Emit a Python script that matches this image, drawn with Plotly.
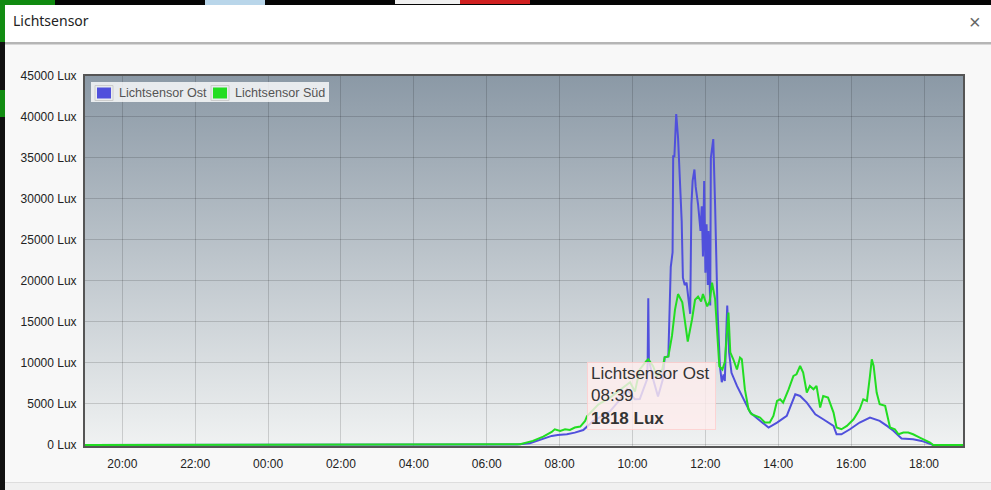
import base64
import plotly.graph_objects as go

# ---------------- data ----------------
DAY1 = "2023-06-10"
DAY2 = "2023-06-11"

ost_times = ["18:58", "06:30", "06:50", "07:11", "07:22", "07:33", "07:47", "07:57", "08:12", "08:25",
             "08:37", "08:39", "08:55", "09:10", "09:23", "09:40", "09:51", "10:04", "10:12", "10:24",
             "10:25", "10:26", "10:27", "10:34", "10:42", "10:50", "10:53", "10:59", "11:03", "11:06",
             "11:07", "11:09", "11:12", "11:15", "11:18", "11:21", "11:23", "11:26", "11:29", "11:32",
             "11:35", "11:37", "11:39", "11:42", "11:44", "11:48", "11:52", "11:54", "11:56", "11:58",
             "12:00", "12:02", "12:04", "12:05", "12:08", "12:09", "12:13", "12:16", "12:18", "12:20",
             "12:24", "12:27", "12:30", "12:32", "12:35", "12:36", "12:39", "12:43", "12:52", "13:03",
             "13:14", "13:27", "13:44", "13:58", "14:14", "14:28", "14:36", "14:47", "15:01", "15:14",
             "15:31", "15:36", "15:44", "15:58", "16:14", "16:31", "16:47", "16:59", "17:10", "17:23",
             "17:42", "17:56", "18:10", "18:15", "19:05"]
ost_lux = [0, 0, 50, 200, 500, 780, 1100, 1220, 1300, 1500,
           1700, 1818, 2900, 3600, 4100, 5570, 6800, 5570, 5600, 8000,
           10400, 17900, 10400, 8000, 5900, 8000, 10700, 10800, 21700, 23500,
           35200, 35200, 40350, 37500, 31400, 27300, 20400, 19500, 19800, 17500,
           16000, 29300, 32200, 33600, 31500, 29300, 26100, 29100, 23000, 32200,
           21000, 26900, 19500, 26100, 17000, 35000, 37300, 29300, 20400, 16500,
           9600, 7650, 8600, 7800, 15000, 17000, 11300, 8800, 7200, 5570,
           3950, 3130, 2120, 2730, 3540, 6180, 5970, 5170, 3740, 3130,
           2320, 1300, 1300, 1910, 2730, 3340, 2930, 2320, 1710, 780,
           700, 490, 170, 0, 0]

sud_times = ["18:58", "06:38", "06:55", "07:16", "07:33", "07:47", "07:52", "08:01", "08:09", "08:17",
             "08:25", "08:34", "08:42", "08:45", "09:04", "09:23", "09:40", "09:56", "10:04", "10:12",
             "10:23", "10:26", "10:34", "10:40", "10:49", "10:53", "10:59", "11:05", "11:10", "11:15",
             "11:22", "11:27", "11:31", "11:38", "11:43", "11:48", "11:53", "11:56", "12:03", "12:07",
             "12:11", "12:16", "12:19", "12:23", "12:28", "12:32", "12:38", "12:41", "12:46", "12:52",
             "12:57", "13:00", "13:05", "13:11", "13:16", "13:25", "13:30", "13:38", "13:46", "13:52",
             "13:58", "14:03", "14:08", "14:17", "14:25", "14:30", "14:36", "14:41", "14:47", "14:52",
             "14:58", "15:03", "15:09", "15:14", "15:22", "15:31", "15:36", "15:44", "15:53", "16:04",
             "16:14", "16:20", "16:26", "16:31", "16:34", "16:37", "16:42", "16:47", "16:56", "17:04",
             "17:12", "17:18", "17:26", "17:34", "17:42", "17:53", "18:10", "18:15", "19:05"]
sud_lux = [0, 0, 80, 490, 1020, 1590, 1910, 1710, 1910, 1830,
           2120, 2240, 2930, 3500, 4960, 5780, 6800, 7650, 6500, 9200,
           10250, 10450, 9600, 8400, 9200, 10700, 10800, 13300, 16500, 18400,
           17400, 15000, 12600, 15300, 17700, 18100, 17500, 18400, 16900, 17500,
           19800, 17800, 14100, 9600, 9200, 10100, 16150, 11300, 10450, 9200,
           10660, 10450, 6800, 4350, 3740, 3540, 3340, 2730, 2730, 3540,
           5370, 5570, 5170, 6790, 8410, 8620, 9630, 8830, 6390, 7200,
           6790, 7200, 4560, 5970, 5780, 3950, 2120, 1910, 2320, 3130,
           4350, 5570, 5370, 8410, 10450, 9630, 6390, 4960, 4760, 2120,
           1910, 1300, 1510, 1510, 1300, 900, 290, 0, 0]

series_names = ["Lichtsensor Ost", "Lichtsensor Süd"]
series_colors = ["#5050dc", "#22dd22"]
tooltip_time = "08:39"

y_ticks = [0, 5000, 10000, 15000, 20000, 25000, 30000, 35000, 40000, 45000]
y_tick_labels = [f"{v} Lux" for v in y_ticks]


def full_dates(times):
    return [(DAY1 if i == 0 else DAY2) + " " + t for i, t in enumerate(times)]


# ---------------- geometry helpers (layout only) ----------------
W, H = 991, 490
ML, MR, MT, MB = 85, 28, 76, 44
PW, PH = W - ML - MR, H - MT - MB


def fx(px):
    return (px - ML) / PW


def fy(py):
    return (H - MB - py) / PH


FONT = "Liberation Sans, Arial, sans-serif"

fig = go.Figure()
fig.add_trace(go.Scatter(x=full_dates(ost_times), y=ost_lux, mode="lines", name=series_names[0],
                         line=dict(color=series_colors[0], width=2), showlegend=False))
fig.add_trace(go.Scatter(x=full_dates(sud_times), y=sud_lux, mode="lines", name=series_names[1],
                         line=dict(color=series_colors[1], width=2), showlegend=False))

# gradient plot background
svg = ('<svg xmlns="http://www.w3.org/2000/svg" viewBox="0 0 10 100" width="10" height="100" '
       'preserveAspectRatio="none"><defs><linearGradient id="g" x1="0" y1="0" x2="0" y2="1">'
       '<stop offset="0" stop-color="#8b99a6"/><stop offset="1" stop-color="#f0f2f2"/>'
       '</linearGradient></defs><rect width="10" height="100" fill="url(#g)"/></svg>')
src = "data:image/svg+xml;base64," + base64.b64encode(svg.encode()).decode()

shapes = []


def rect(x0, y0, x1, y1, fill, line=None, lw=0, layer="below"):
    shapes.append(dict(type="rect", xref="paper", yref="paper", x0=fx(x0), x1=fx(x1), y0=fy(y1), y1=fy(y0),
                       fillcolor=fill, line=dict(color=line or fill, width=lw), layer=layer))


# dialog chrome
rect(0, 0, 991, 5, "#050505")
rect(0, 0, 55, 5, "#108a10")
rect(205, 0, 265, 5, "#b9d6ea")
rect(395, 0, 460, 4, "#f0f0f0")
rect(460, 0, 530, 4, "#d02020")
rect(0, 5, 5, 490, "#111111")
rect(0, 5, 5, 42, "#128c12")
rect(0, 90, 5, 117, "#128c12")
rect(5, 5, 991, 42, "#ffffff")
rect(5, 42, 991, 44.5, "#b5b5b5")
rect(5, 482, 991, 490, "#f0f0f0")
rect(5, 482, 991, 483, "#dddddd")

# custom legend (flot style)
rect(91, 82, 329, 102, "rgba(255,255,255,0.8)", layer="above")
rect(95, 85.5, 113, 100.5, "rgba(0,0,0,0)", line="#cccccc", lw=1, layer="above")
rect(97, 87.5, 111, 98.5, series_colors[0], layer="above")
rect(211, 85.5, 229, 100.5, "rgba(0,0,0,0)", line="#cccccc", lw=1, layer="above")
rect(213, 87.5, 227, 98.5, series_colors[1], layer="above")

annotations = [
    dict(text="Lichtsensor", xref="paper", yref="paper", x=fx(11), y=fy(21), xanchor="left", yanchor="middle",
         showarrow=False, font=dict(family="Segoe UI, Noto Sans, Open Sans, sans-serif", size=14, color="#222")),
    dict(text="×", xref="paper", yref="paper", x=fx(974.5), y=fy(21.5), xanchor="center", yanchor="middle",
         showarrow=False, font=dict(family=FONT, size=20, color="#666")),
    dict(text=series_names[0], xref="paper", yref="paper", x=fx(116.5), y=fy(93), xanchor="left",
         yanchor="middle", showarrow=False, font=dict(family=FONT, size=12.6, color="#545454")),
    dict(text=series_names[1], xref="paper", yref="paper", x=fx(232.5), y=fy(93), xanchor="left",
         yanchor="middle", showarrow=False, font=dict(family=FONT, size=12.6, color="#545454")),
]

# tooltip anchored at the hovered data point
ti = ost_times.index(tooltip_time)
annotations.append(dict(
    text=f"{series_names[0]}<br>{ost_times[ti]}<br><b>{ost_lux[ti]} Lux</b>",
    x=full_dates(ost_times)[ti], y=ost_lux[ti], xref="x", yref="y", xanchor="left", yanchor="bottom",
    xshift=4, showarrow=False, align="left", valign="middle", width=121, height=60,
    bgcolor="rgba(255,238,238,0.8)",
    bordercolor="rgba(255,205,205,0.8)", borderwidth=1, borderpad=3,
    font=dict(family=FONT, size=17, color="#333")))

axis_common = dict(showgrid=True, gridcolor="rgba(0,0,0,0.15)", gridwidth=1, showline=True,
                   linecolor="#555555", linewidth=2, mirror=True, ticks="", zeroline=False,
                   tickfont=dict(family=FONT, size=12, color="#222"), layer="below traces",
                   fixedrange=True)

fig.update_layout(
    width=W, height=H, autosize=False,
    margin=dict(l=ML, r=MR, t=MT, b=MB, pad=0),
    paper_bgcolor="#f8f8f8", plot_bgcolor="rgba(0,0,0,0)",
    showlegend=False, hovermode=False,
    shapes=shapes, annotations=annotations,
    images=[dict(source=src, xref="paper", yref="paper", x=0, y=1, sizex=1, sizey=1,
                 xanchor="left", yanchor="top", sizing="stretch", layer="below")],
    xaxis=dict(type="date", range=[DAY1 + " 18:58:35", DAY2 + " 19:04:10"], tickformat="%H:%M",
               dtick=7200000, tick0=DAY1 + " 20:00", ticklabelstandoff=6, **axis_common),
    yaxis=dict(range=[-130, 45000], tickmode="array", tickvals=y_ticks, ticktext=y_tick_labels,
               ticklabelstandoff=4, **axis_common),
)

fig.write_html("out.html", config={"displayModeBar": False},
               post_script="document.body.style.margin='0';document.body.style.overflow='hidden';")
